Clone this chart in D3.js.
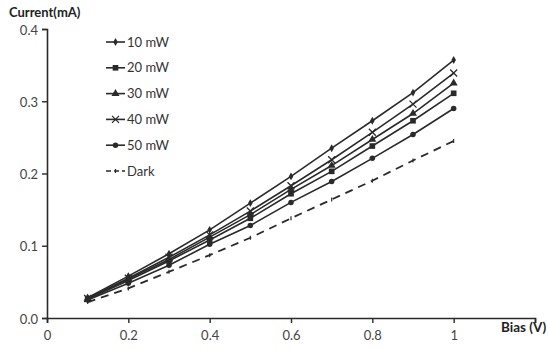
<!DOCTYPE html>
<html><head><meta charset="utf-8">
<script src="https://cdn.jsdelivr.net/npm/d3@7"></script>
<style>body{margin:0;background:#fff}svg{display:block}text{font-family:Lato,"Open Sans",sans-serif}</style>
</head><body><svg id="c" width="548" height="349"></svg>
<script>
const biasV = [0.1,0.2,0.3,0.4,0.5,0.6,0.7,0.8,0.9,1.0];
const seriesNames = ["10 mW","20 mW","30 mW","40 mW","50 mW","Dark"];
const s10 = [0.028,0.058,0.089,0.122,0.159,0.196,0.235,0.273,0.312,0.357];
const s20 = [0.026,0.052,0.079,0.108,0.138,0.172,0.203,0.238,0.273,0.311];
const s30 = [0.027,0.054,0.081,0.112,0.143,0.178,0.211,0.247,0.283,0.325];
const s40 = [0.027,0.055,0.084,0.115,0.148,0.183,0.219,0.257,0.296,0.339];
const s50 = [0.025,0.048,0.073,0.102,0.128,0.160,0.189,0.221,0.254,0.290];
const sDark = [0.022,0.041,0.064,0.087,0.111,0.138,0.164,0.190,0.218,0.245];
const xTicks = [0,0.2,0.4,0.6,0.8,1,1.2];
const xTickLabels = ["0","0.2","0.4","0.6","0.8","1",""];
const yTicks = [0,0.1,0.2,0.3,0.4];
const yTickLabels = ["0.0","0.1","0.2","0.3","0.4"];

const allSeries = [s10,s20,s30,s40,s50,sDark];
const markers = ["diamond","square","triangle","cross","circle","tick"];

const svg = d3.select("#c");
const x = d3.scaleLinear().domain([0,1.2]).range([47,535]);
const y = d3.scaleLinear().domain([0,0.4]).range([318,29]);
const ink = "#2a2a2a";

const xAxis = d3.axisBottom(x).tickValues(xTicks).tickSize(5).tickFormat((d,i)=>xTickLabels[i]);
const gx = svg.append("g").attr("transform","translate(0,318)").call(xAxis);
gx.select(".domain").attr("stroke",ink).attr("stroke-width",1.6);
gx.selectAll(".tick line").attr("stroke",ink).attr("stroke-width",1.4);
gx.selectAll(".tick text").attr("fill","#444").attr("font-size",13).attr("dy","1.05em");

const yAxis = d3.axisLeft(y).tickValues(yTicks).tickSize(5).tickFormat((d,i)=>yTickLabels[i]);
const gy = svg.append("g").attr("transform","translate(47,0)").call(yAxis);
gy.select(".domain").attr("stroke",ink).attr("stroke-width",1.6);
gy.selectAll(".tick line").attr("stroke",ink).attr("stroke-width",1.4);
gy.selectAll(".tick text").attr("fill","#444").attr("font-size",13).attr("x",-9).attr("dy","0.4em");

svg.append("text").attr("x",9).attr("y",17).attr("font-size",13).attr("font-weight","bold").attr("fill","#222").text("Current(mA)");
svg.append("text").attr("x",501).attr("y",332).attr("font-size",13.5).attr("font-weight","bold").attr("fill","#222").text("Bias (V)");

const line = d3.line().x((d,i)=>x(biasV[i])).y(d=>y(d));

function drawMarker(g, type, cx, cy){
  const sym = {diamond:d3.symbolDiamond, square:d3.symbolSquare, triangle:d3.symbolTriangle, circle:d3.symbolCircle};
  if(type==="cross"){
    g.append("path").attr("d",`M${cx-3.5},${cy-3.5}L${cx+3.5},${cy+3.5}M${cx-3.5},${cy+3.5}L${cx+3.5},${cy-3.5}`).attr("stroke",ink).attr("stroke-width",1.3);
  } else if(type==="tick"){
    g.append("path").attr("d",`M${cx},${cy-2}L${cx},${cy+2}`).attr("stroke",ink).attr("stroke-width",1.2);
  } else {
    const size = {diamond:18, square:32, triangle:28, circle:24}[type];
    g.append("path").attr("d",d3.symbol().type(sym[type]).size(size)()).attr("transform",`translate(${cx},${cy})`).attr("fill",ink);
  }
}

allSeries.forEach((s,k)=>{
  const g = svg.append("g");
  g.append("path").datum(s).attr("d",line).attr("fill","none").attr("stroke",ink)
    .attr("stroke-width", k===5?1.8:1.6).attr("stroke-dasharray", k===5?"8,6":null);
  s.forEach((v,i)=>drawMarker(g, markers[k], x(biasV[i]), y(v)));
});

// legend
const lg = svg.append("g");
seriesNames.forEach((n,k)=>{
  const ly = 42 + k*25.8;
  lg.append("path").attr("d",`M106,${ly}L125,${ly}`).attr("stroke",ink).attr("stroke-width",1.6).attr("stroke-dasharray",k===5?"5,3":null);
  drawMarker(lg, markers[k], 115.5, ly);
  lg.append("text").attr("x",127).attr("y",ly).attr("dy","0.36em").attr("font-size",13).attr("fill","#333").text(n);
});
</script></body></html>
